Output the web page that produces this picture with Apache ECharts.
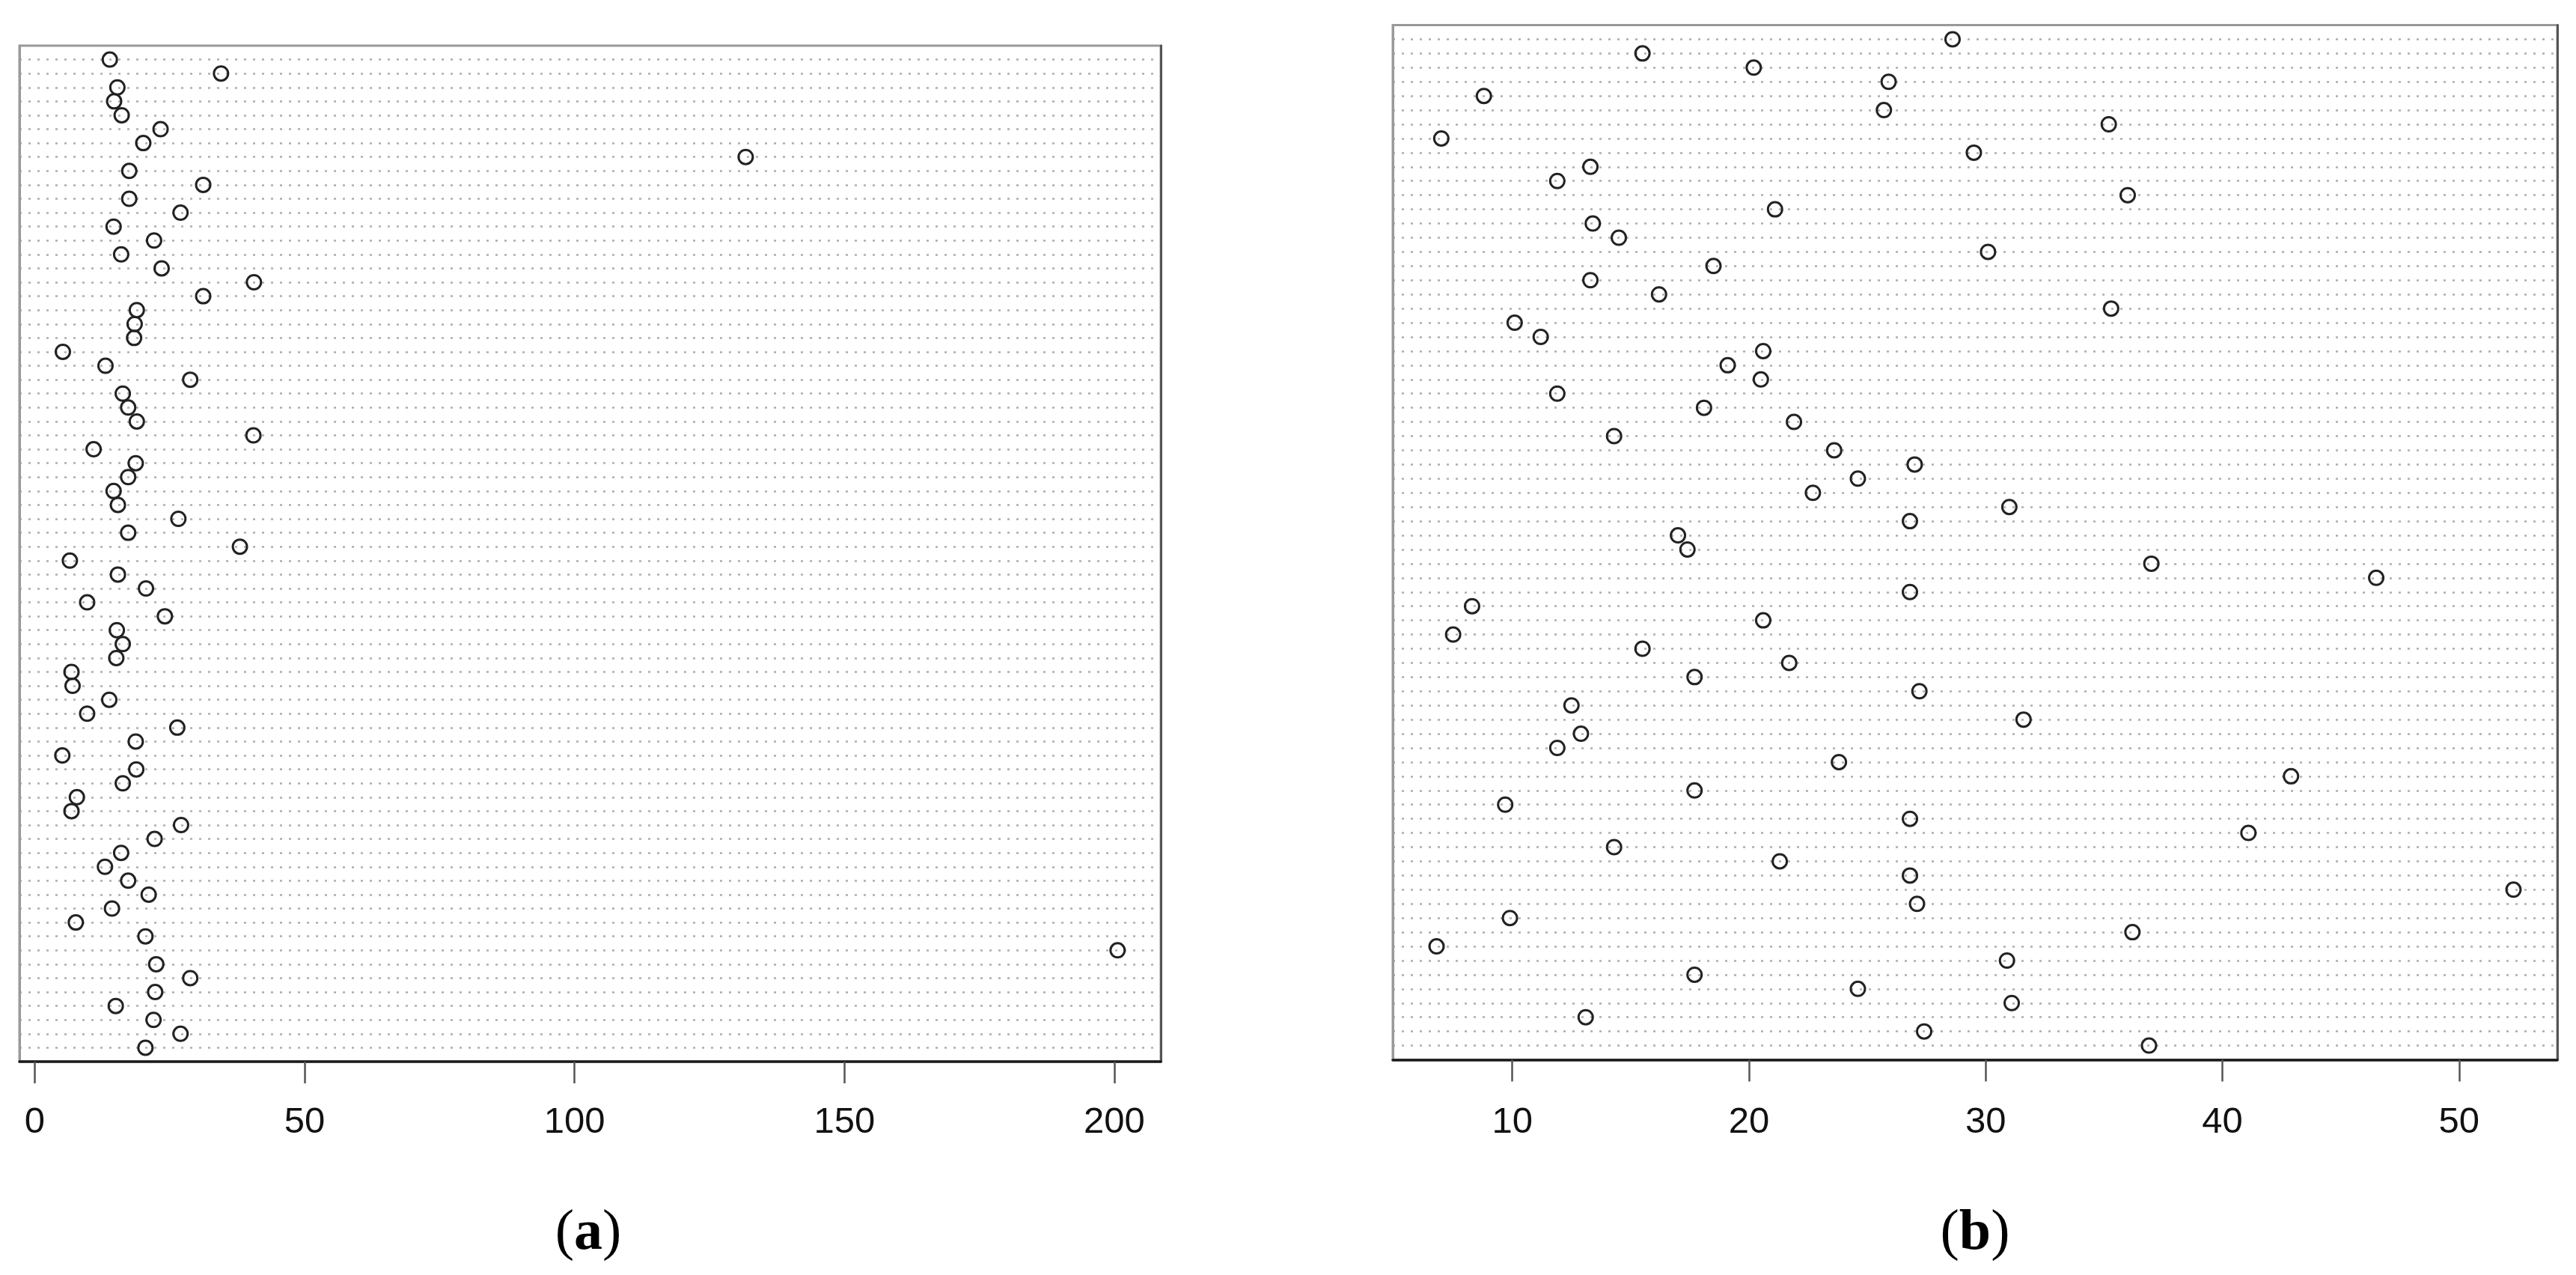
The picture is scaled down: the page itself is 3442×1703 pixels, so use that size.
<!DOCTYPE html>
<html>
<head>
<meta charset="utf-8">
<script src="https://cdn.jsdelivr.net/npm/echarts@6/dist/echarts.min.js"></script>
<style>
  html, body { margin: 0; padding: 0; background: #fff; }
  #main { width: 3442px; height: 1703px; }
</style>
</head>
<body>
<div id="main"></div>
<script>
// panel (a): one value per row, top row first
var valuesA = [
    13.9, 34.5, 15.3, 14.7, 16.1, 23.3, 20.1, 131.7, 17.5, 31.2,
    17.5, 27.0, 14.6, 22.1, 16.0, 23.5, 40.6, 31.2, 18.9, 18.5,
    18.4, 5.2, 13.1, 28.8, 16.3, 17.3, 18.9, 40.5, 10.9, 18.7,
    17.3, 14.6, 15.4, 26.6, 17.3, 38.0, 6.5, 15.4, 20.6, 9.7,
    24.1, 15.2, 16.3, 15.1, 6.8, 7.0, 13.8, 9.7, 26.4, 18.7,
    5.1, 18.8, 16.3, 7.8, 6.8, 27.1, 22.2, 16.0, 13.0, 17.3,
    21.1, 14.3, 7.6, 20.5, 200.6, 22.5, 28.8, 22.3, 15.0, 22.0,
    27.0, 20.5
];
// panel (b)
var valuesB = [
    28.6, 15.5, 20.2, 25.9, 8.8, 25.7, 35.2, 7.0, 29.5, 13.3,
    11.9, 36.0, 21.1, 13.4, 14.5, 30.1, 18.5, 13.3, 16.2, 35.3,
    10.1, 11.2, 20.6, 19.1, 20.5, 11.9, 18.1, 21.9, 14.3, 23.6,
    27.0, 24.6, 22.7, 31.0, 26.8, 17.0, 17.4, 37.0, 46.5, 26.8,
    8.3, 20.6, 7.5, 15.5, 21.7, 17.7, 27.2, 12.5, 31.6, 12.9,
    11.9, 23.8, 42.9, 17.7, 9.7, 26.8, 41.1, 14.3, 21.3, 26.8,
    52.3, 27.1, 9.9, 36.2, 6.8, 30.9, 17.7, 24.6, 31.1, 13.1,
    27.4, 36.9
];
var ticksA = [0, 50, 100, 150, 200];
var ticksB = [10, 20, 30, 40, 50];
var panelLabels = ['a', 'b'];

var nRows = valuesA.length;

function toPoints(vals) {
    return vals.map(function (v, i) { return [v, i + 1]; });
}

function xAxisFor(gridIndex, min, max, ticks, margin) {
    return {
        type: 'value',
        gridIndex: gridIndex,
        position: 'bottom',
        min: min,
        max: max,
        axisLine: { show: true, onZero: false, lineStyle: { color: '#1a1a1a', width: 3.5 } },
        axisTick: { show: true, length: 29, customValues: ticks, lineStyle: { color: '#555', width: 2.5 } },
        axisLabel: {
            show: true, customValues: ticks, margin: margin,
            fontSize: 49, color: '#111', fontFamily: 'Liberation Sans'
        },
        splitLine: { show: false }
    };
}

function yAxesFor(gridIndex) {
    return [{
        type: 'value',
        gridIndex: gridIndex,
        position: 'left',
        min: 0,
        max: nRows + 1,
        interval: 1,
        inverse: true,
        axisLine: { show: true, onZero: false, lineStyle: { color: '#999', width: 3 } },
        axisTick: { show: false },
        axisLabel: { show: false },
        splitLine: {
            show: true, showMinLine: false, showMaxLine: false,
            lineStyle: { color: '#adadad', width: 2.5, type: [3, 9] }
        }
    }, {
        type: 'value',
        gridIndex: gridIndex,
        position: 'right',
        min: 0,
        max: nRows + 1,
        inverse: true,
        axisLine: { show: true, onZero: false, lineStyle: { color: '#555', width: 3 } },
        axisTick: { show: false },
        axisLabel: { show: false },
        splitLine: { show: false }
    }];
}

function dotSeries(vals, idx) {
    return {
        type: 'scatter',
        xAxisIndex: idx,
        yAxisIndex: idx * 2,
        data: toPoints(vals),
        symbol: 'circle',
        symbolSize: 19,
        itemStyle: { color: 'rgba(0,0,0,0)', borderColor: '#222', borderWidth: 3, opacity: 1 },
        emphasis: { disabled: true },
        silent: true
    };
}

function panelText(letter, x) {
    return {
        type: 'text',
        x: x,
        y: 1648,
        style: {
            text: '{p|(}{b|' + letter + '}{p|)}',
            align: 'center',
            verticalAlign: 'middle',
            fill: '#000',
            rich: {
                p: { fontFamily: 'Liberation Serif', fontSize: 76, fontWeight: 'normal', fill: '#000' },
                b: { fontFamily: 'Liberation Serif', fontSize: 76, fontWeight: 'bold', fill: '#000' }
            }
        }
    };
}

var myChart = echarts.init(document.getElementById('main'), null, { renderer: 'canvas' });
var option = {
    backgroundColor: '#fff',
    animation: false,
    grid: [
        { left: 26, top: 61, width: 1525, height: 1357, show: true, borderColor: '#999', borderWidth: 3, outerBoundsMode: 'none', containLabel: false },
        { left: 1861, top: 33.5, width: 1556, height: 1382, show: true, borderColor: '#999', borderWidth: 3, outerBoundsMode: 'none', containLabel: false }
    ],
    xAxis: [
        xAxisFor(0, -2.84, 208.6, ticksA, 57),
        xAxisFor(1, 4.95, 54.15, ticksB, 59)
    ],
    yAxis: yAxesFor(0).concat(yAxesFor(1)),
    series: [
        dotSeries(valuesA, 0),
        dotSeries(valuesB, 1)
    ],
    graphic: [
        panelText(panelLabels[0], 786),
        panelText(panelLabels[1], 2639)
    ]
};
myChart.setOption(option);
</script>
</body>
</html>
